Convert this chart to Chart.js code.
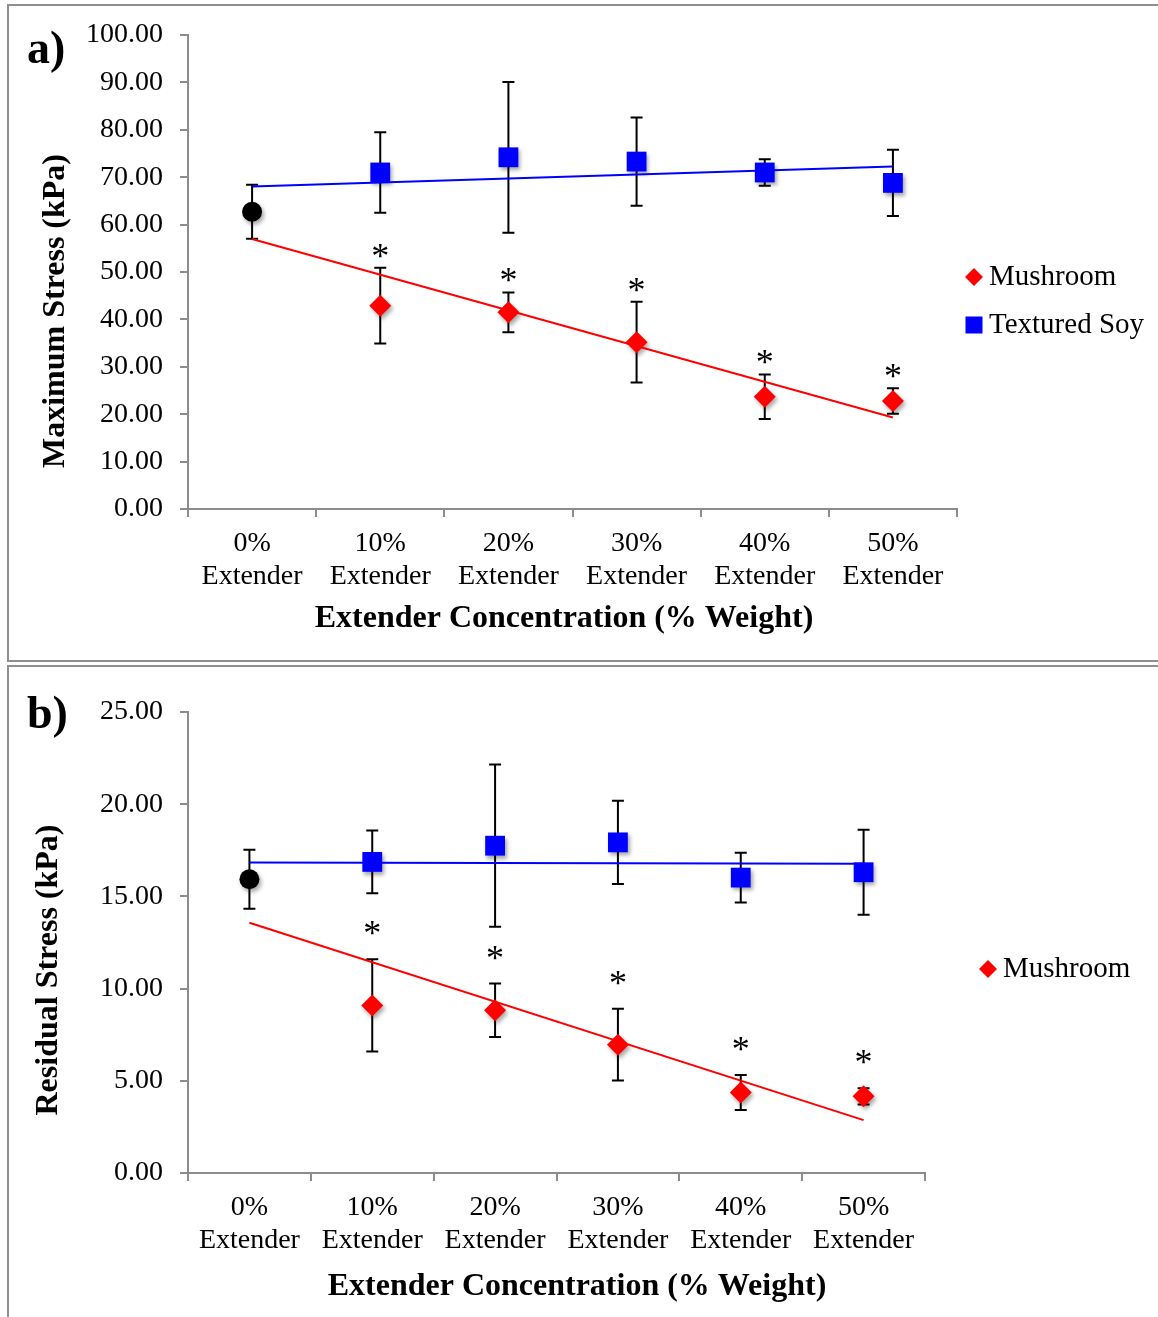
<!DOCTYPE html>
<html lang="en">
<head>
<meta charset="UTF-8">
<title>Maximum and Residual Stress | Extender Concentration</title>
<script src="https://cdn.jsdelivr.net/npm/chart.js"></script>
<style>
    body { margin: 0; width: 1158px; height: 1317px; overflow: hidden; background: #fff; position: relative; }
    .painel { position: absolute; left: 7px; width: 1175px; border: 2px solid #8f8f8f; box-sizing: border-box; }
    #painelA { top: 4px; height: 658px; }
    #painelB { top: 665px; height: 700px; }
    canvas { position: absolute; left: 0; }
    #graficoA { top: 0; }
    #graficoB { top: 662px; }
</style>
</head>
<body>
    <div class="painel" id="painelA"></div>
    <div class="painel" id="painelB"></div>
    <canvas id="graficoA" width="1158" height="662"></canvas>
    <canvas id="graficoB" width="1158" height="655"></canvas>

<script>
    // categorias do eixo x (duas linhas cada)
    var categorias = [
        ['0%', 'Extender'], ['10%', 'Extender'], ['20%', 'Extender'],
        ['30%', 'Extender'], ['40%', 'Extender'], ['50%', 'Extender']
    ];

    // a) Maximum Stress (kPa) - controle em 0%, depois 10%..50%
    var controleMax = 62.7, controleMaxDP = 5.7;
    var mushroomMax = [42.9, 41.5, 35.2, 23.7, 22.8];
    var mushroomMaxDP = [8.0, 4.2, 8.5, 4.7, 2.7];
    var soyMax = [71.0, 74.2, 73.3, 71.0, 68.8];
    var soyMaxDP = [8.5, 15.9, 9.3, 2.8, 7.0];

    // b) Residual Stress (kPa)
    var controleRes = 15.93, controleResDP = 1.6;
    var mushroomRes = [9.09, 8.82, 6.96, 4.36, 4.16];
    var mushroomResDP = [2.5, 1.45, 1.95, 0.95, 0.44];
    var soyRes = [16.87, 17.75, 17.93, 16.02, 16.31];
    var soyResDP = [1.7, 4.4, 2.26, 1.35, 2.3];

    // eixos y
    var eixoMaxA = 100, passoA = 10;
    var eixoMaxB = 25, passoB = 5;

    var fonte = 'Liberation Serif';
    var cinza = '#8c8c8c';

    // linha de tendência linear (mínimos quadrados), como no Excel
    // só as pontas: o resto fica null e o spanGaps liga as duas
    function tendencia(valores) {
        var n = valores.length;
        var mx = (n - 1) / 2;
        var my = valores.reduce(function (a, b) { return a + b; }, 0) / n;
        var sxy = 0, sxx = 0;
        valores.forEach(function (v, i) { sxy += (i - mx) * (v - my); sxx += (i - mx) * (i - mx); });
        var b = sxy / sxx, a = my - b * mx;
        var linha = valores.map(function () { return null; });
        linha[0] = a;
        linha[n - 1] = a + b * (n - 1);
        return linha;
    }

    // barras de erro desenhadas antes dos marcadores
    const barrasErro = {
        id: 'barrasErro',
        beforeDatasetsDraw(chart) {
            const ctx = chart.ctx, y = chart.scales.y;
            ctx.save();
            ctx.strokeStyle = '#000';
            ctx.lineWidth = 2;
            chart.data.datasets.forEach(function (ds, i) {
                if (!ds.erros) return;
                const meta = chart.getDatasetMeta(i);
                ds.data.forEach(function (v, j) {
                    if (v == null) return;
                    const x = meta.data[j].x;
                    const yt = y.getPixelForValue(v + ds.erros[j]);
                    const yb = y.getPixelForValue(v - ds.erros[j]);
                    ctx.beginPath();
                    ctx.moveTo(x, yt); ctx.lineTo(x, yb);
                    ctx.moveTo(x - 6, yt); ctx.lineTo(x + 6, yt);
                    ctx.moveTo(x - 6, yb); ctx.lineTo(x + 6, yb);
                    ctx.stroke();
                });
            });
            ctx.restore();
        },
        beforeDatasetDraw(chart, args) {
            const ds = chart.data.datasets[args.index];
            if (ds.sombra) {
                chart.ctx.save();
                chart.ctx.shadowColor = 'rgba(0,0,0,0.35)';
                chart.ctx.shadowBlur = 4;
                chart.ctx.shadowOffsetX = 2;
                chart.ctx.shadowOffsetY = 3;
            }
        },
        afterDatasetDraw(chart, args) {
            if (chart.data.datasets[args.index].sombra) chart.ctx.restore();
        },
        afterDatasetsDraw(chart, args, opts) {
            // asteriscos de diferença significativa acima das barras
            const ctx = chart.ctx, y = chart.scales.y;
            ctx.save();
            ctx.fillStyle = '#000';
            ctx.font = '36px "' + fonte + '"';
            ctx.textAlign = 'center';
            ctx.textBaseline = 'alphabetic';
            chart.data.datasets.forEach(function (ds, i) {
                if (!ds.significativo) return;
                const meta = chart.getDatasetMeta(i);
                ds.data.forEach(function (v, j) {
                    if (v == null) return;
                    const yt = y.getPixelForValue(v + ds.erros[j]);
                    ctx.fillText('*', meta.data[j].x, yt - opts.distancia + 17);
                });
            });
            ctx.restore();
        }
    };

    // rótulo do painel, títulos dos eixos e legenda
    const decoracao = {
        id: 'decoracao',
        afterDraw(chart, args, o) {
            const ctx = chart.ctx;
            ctx.save();
            ctx.fillStyle = '#000';
            ctx.font = 'bold 46px "' + fonte + '"';
            ctx.textAlign = 'left';
            ctx.textBaseline = 'alphabetic';
            ctx.fillText(o.rotulo, 27, o.rotuloY);

            ctx.font = 'bold 32px "' + fonte + '"';
            ctx.textAlign = 'center';
            ctx.textBaseline = 'middle';
            ctx.fillText(o.tituloX, o.tituloXPos[0], o.tituloXPos[1]);
            ctx.save();
            ctx.translate(o.tituloYPos[0], o.tituloYPos[1]);
            ctx.rotate(-Math.PI / 2);
            ctx.fillText(o.tituloY, 0, 0);
            ctx.restore();

            ctx.font = '29px "' + fonte + '"';
            ctx.textAlign = 'left';
            var ly = o.legendaY;
            chart.data.datasets.forEach(function (ds) {
                if (!ds.naLegenda) return;
                var mx = o.legendaX;
                ctx.fillStyle = ds.backgroundColor;
                ctx.beginPath();
                if (ds.pointStyle === 'rectRot') {
                    ctx.moveTo(mx - 9, ly); ctx.lineTo(mx, ly - 9);
                    ctx.lineTo(mx + 9, ly); ctx.lineTo(mx, ly + 9);
                    ctx.closePath();
                } else {
                    ctx.rect(mx - 8.5, ly - 8.5, 17, 17);
                }
                ctx.fill();
                ctx.fillStyle = '#000';
                ctx.fillText(ds.label, mx + 15, ly);
                ly += 48;
            });
            ctx.restore();
        }
    };

    function montarGrafico(id, cfg) {
        var dados = {
            labels: categorias,
            datasets: [
                {
                    label: 'Trend Mushroom',
                    data: tendencia([cfg.controle].concat(cfg.mushroom)), spanGaps: true,
                    borderColor: '#ff0000', borderWidth: 2, pointRadius: 0, order: 0
                },
                {
                    label: 'Trend Textured Soy',
                    data: tendencia([cfg.controle].concat(cfg.soy)), spanGaps: true,
                    borderColor: '#0000ff', borderWidth: 2, pointRadius: 0, order: 0
                },
                {
                    label: 'Mushroom', data: [null].concat(cfg.mushroom),
                    erros: [0].concat(cfg.mushroomDP), significativo: true, sombra: true,
                    naLegenda: true,
                    showLine: false, pointStyle: 'rectRot', pointRadius: 11,
                    backgroundColor: '#ff0000', borderWidth: 0, order: 1
                },
                {
                    label: 'Textured Soy', data: [null].concat(cfg.soy),
                    erros: [0].concat(cfg.soyDP), sombra: true,
                    naLegenda: cfg.legendaSoy,
                    showLine: false, pointStyle: 'rect', pointRadius: 14,
                    backgroundColor: '#0000ff', borderWidth: 0, order: 1
                },
                {
                    label: 'Control', data: [cfg.controle, null, null, null, null, null],
                    erros: [cfg.controleDP], sombra: true,
                    showLine: false, pointStyle: 'circle', pointRadius: 10,
                    backgroundColor: '#000000', borderWidth: 0, order: 1
                }
            ]
        };

        const config = {
            type: 'line',
            data: dados,
            options: {
                responsive: false,
                animation: false,
                events: [],
                layout: { padding: { top: cfg.topo, right: cfg.direita, left: 0, bottom: 0 } },
                scales: {
                    x: {
                        type: 'category',
                        offset: true,
                        grid: { offset: true, drawOnChartArea: false, tickLength: 8, color: cinza, lineWidth: 2 },
                        border: { color: cinza, width: 2 },
                        ticks: {
                            color: '#000', padding: 10, maxRotation: 0, autoSkip: false,
                            font: { family: fonte, size: 28, lineHeight: 1.18 }
                        },
                        afterFit: function (s) { s.height = cfg.alturaX; }
                    },
                    y: {
                        min: 0, max: cfg.eixoMax,
                        grid: { drawOnChartArea: false, tickLength: 8, color: cinza, lineWidth: 2 },
                        border: { color: cinza, width: 2 },
                        ticks: {
                            stepSize: cfg.passo, color: '#000', padding: 17,
                            font: { family: fonte, size: 28 },
                            callback: function (v) { return v.toFixed(2); }
                        },
                        afterFit: function (s) { s.width = 188; }
                    }
                },
                plugins: {
                    legend: { display: false },
                    tooltip: { enabled: false },
                    barrasErro: { distancia: cfg.distanciaAsterisco },
                    decoracao: cfg.decoracao
                }
            },
            plugins: [barrasErro, decoracao]
        };

        return new Chart(document.getElementById(id), config);
    }

    montarGrafico('graficoA', {
        controle: controleMax, controleDP: controleMaxDP,
        mushroom: mushroomMax, mushroomDP: mushroomMaxDP,
        soy: soyMax, soyDP: soyMaxDP, legendaSoy: true,
        eixoMax: eixoMaxA, passo: passoA,
        topo: 35, direita: 201, alturaX: 153,
        distanciaAsterisco: 17,
        decoracao: {
            rotulo: 'a)', rotuloY: 63,
            tituloX: 'Extender Concentration (% Weight)', tituloXPos: [564, 619],
            tituloY: 'Maximum Stress (kPa)', tituloYPos: [56, 311],
            legendaX: 974, legendaY: 277
        }
    });

    montarGrafico('graficoB', {
        controle: controleRes, controleDP: controleResDP,
        mushroom: mushroomRes, mushroomDP: mushroomResDP,
        soy: soyRes, soyDP: soyResDP, legendaSoy: false,
        eixoMax: eixoMaxB, passo: passoB,
        topo: 50, direita: 233, alturaX: 144,
        distanciaAsterisco: 31,
        decoracao: {
            rotulo: 'b)', rotuloY: 66,
            tituloX: 'Extender Concentration (% Weight)', tituloXPos: [577, 625],
            tituloY: 'Residual Stress (kPa)', tituloYPos: [49, 308],
            legendaX: 988, legendaY: 307
        }
    });
</script>
</body>
</html>
